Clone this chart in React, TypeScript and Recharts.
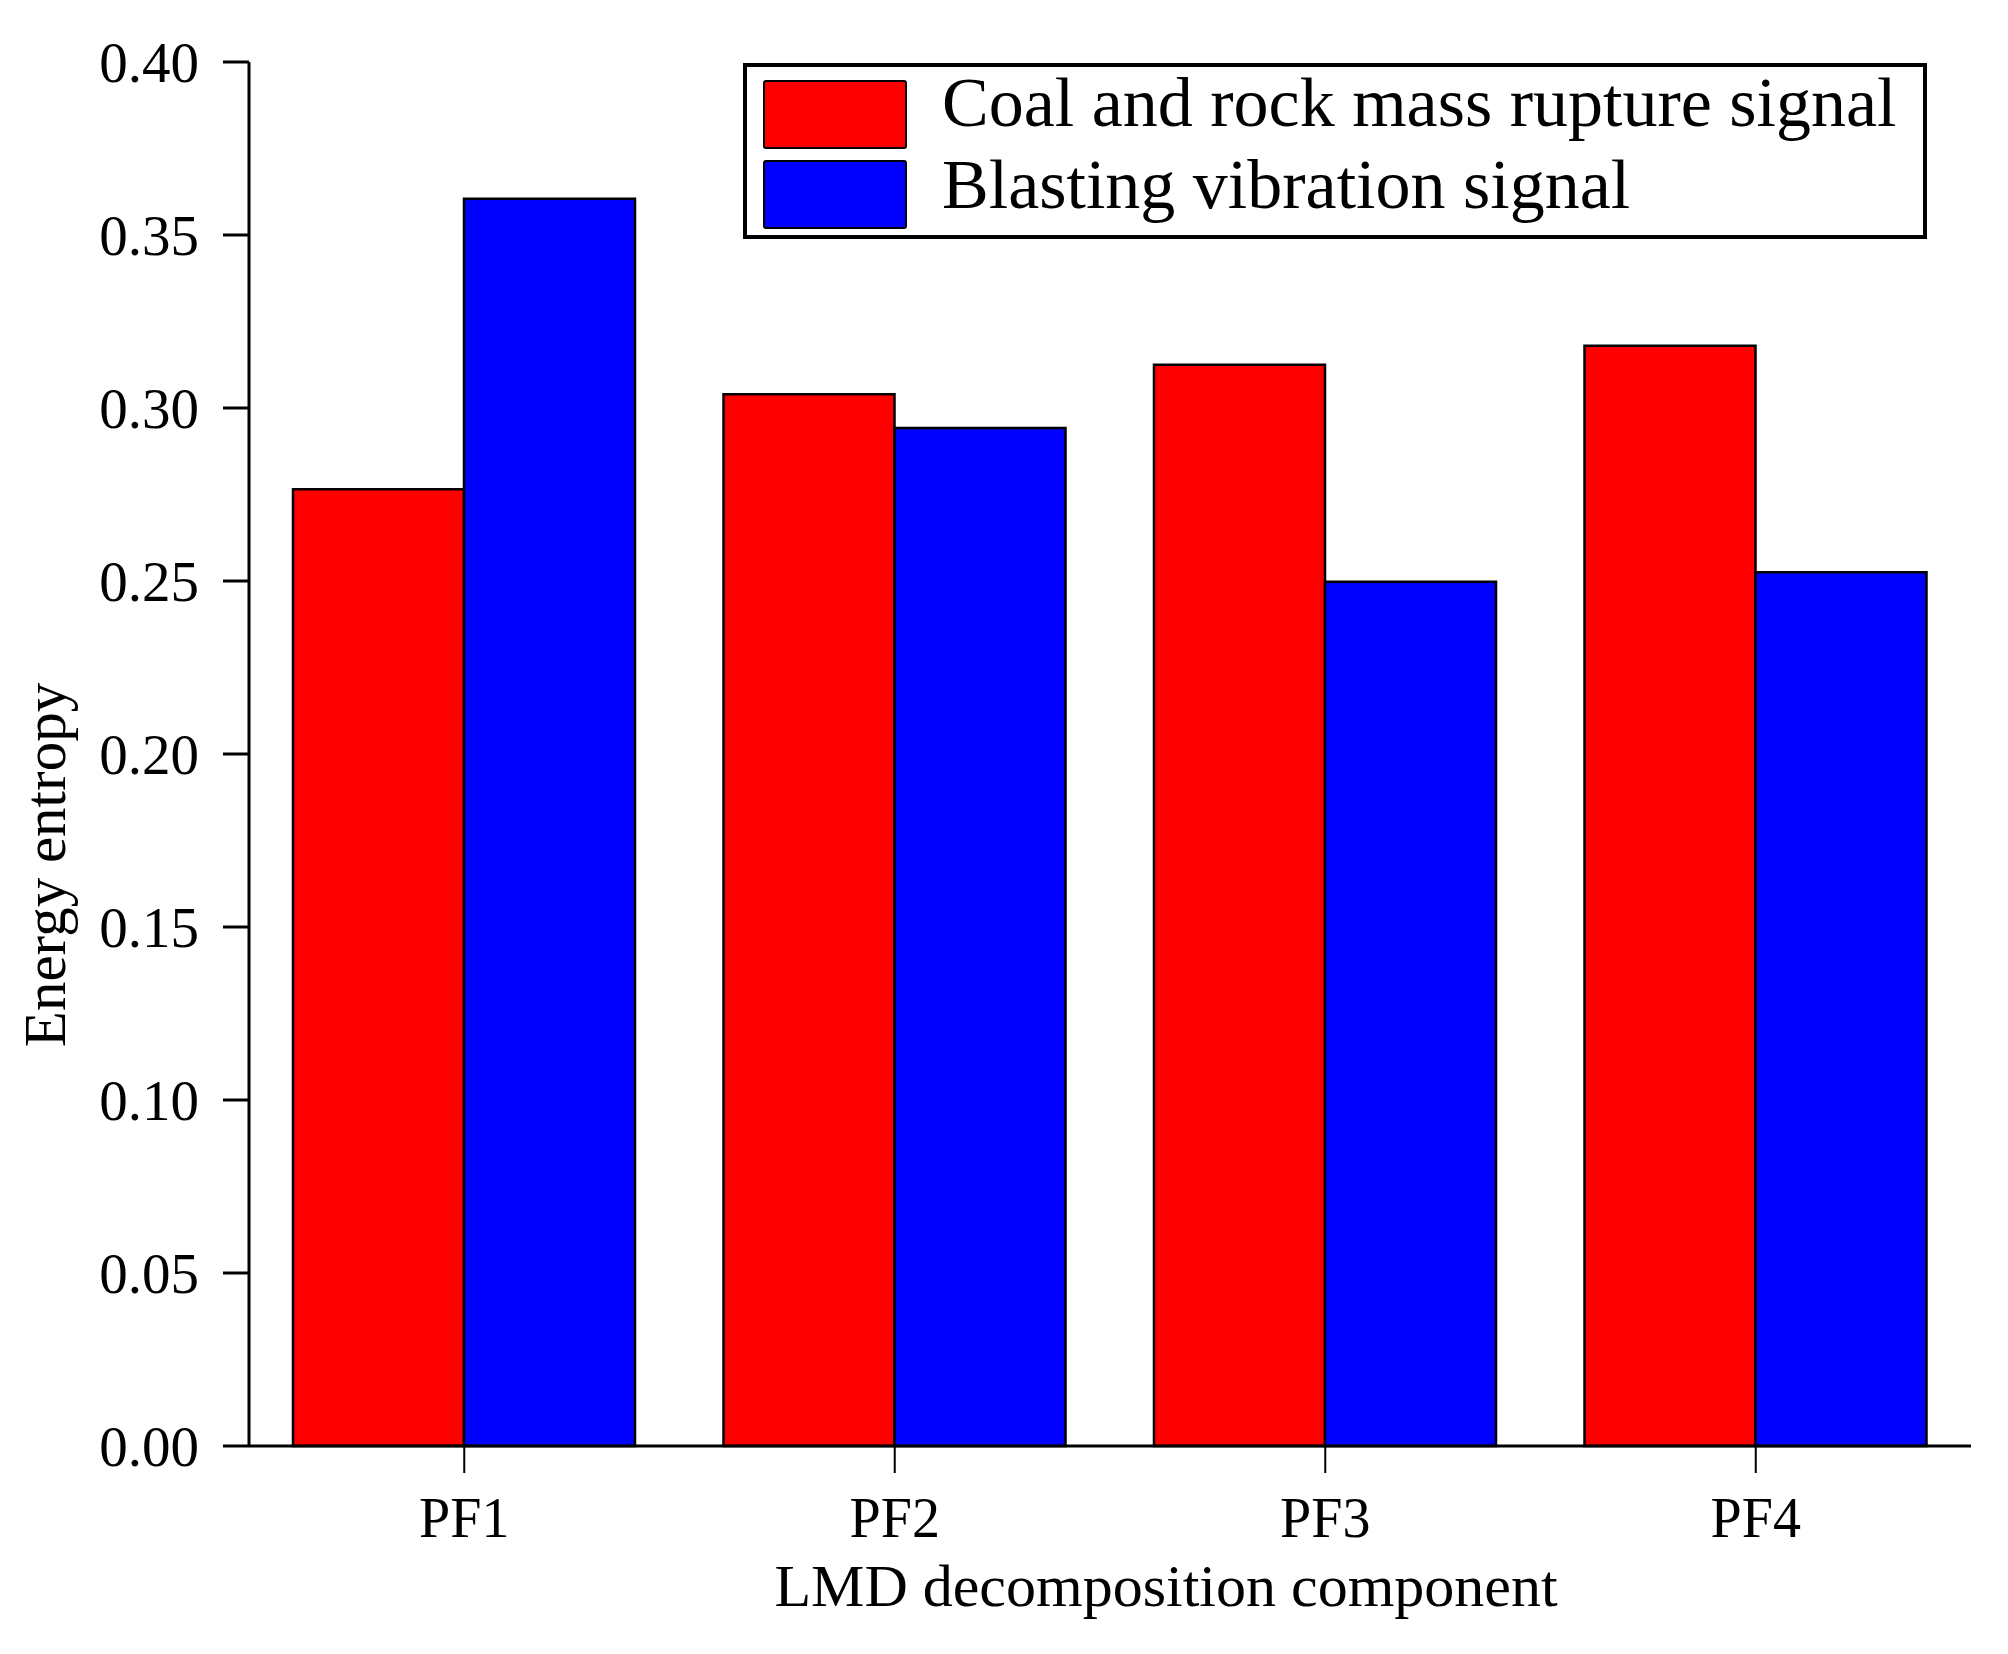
import React from 'react';
import { BarChart, Bar, XAxis, YAxis, Legend } from 'recharts';

const categories = ['PF1', 'PF2', 'PF3', 'PF4'];
const ruptureValues = [0.2765, 0.304, 0.3125, 0.318];
const blastingValues = [0.3605, 0.2942, 0.2498, 0.2525];
const yTicks = [0, 0.05, 0.1, 0.15, 0.2, 0.25, 0.3, 0.35, 0.4];
const seriesNames = ['Coal and rock mass rupture signal', 'Blasting vibration signal'];

const data = categories.map((name, i) => ({
  name,
  rupture: ruptureValues[i],
  blasting: blastingValues[i],
}));

const FONT = '"Liberation Serif", "Times New Roman", serif';

const LegendBox = (props: any) => {
  const raw = props.payload || [];
  const payload = [...raw].sort(
    (a: any, b: any) => seriesNames.indexOf(a.value) - seriesNames.indexOf(b.value)
  );
  return (
    <div
      style={{
        position: 'relative',
        width: 1184,
        height: 176,
        border: '4px solid #000',
        boxSizing: 'border-box',
        background: '#fff',
        fontFamily: FONT,
      }}
    >
      {payload.map((entry: any, i: number) => (
        <React.Fragment key={entry.value}>
          <div
            style={{
              position: 'absolute',
              left: 16,
              top: 13 + i * 80,
              width: 144,
              height: 69,
              background: entry.color,
              border: '2.5px solid #000',
              borderRadius: 3,
              boxSizing: 'border-box',
            }}
          />
          <span
            style={{
              position: 'absolute',
              left: 195,
              top: 1 + i * 82,
              fontSize: 70,
              lineHeight: '70px',
              color: '#000',
              whiteSpace: 'nowrap',
            }}
          >
            {entry.value}
          </span>
        </React.Fragment>
      ))}
    </div>
  );
};

const YTitle = (props: any) => {
  const vb = props.viewBox;
  const cx = 65;
  const cy = vb.y + vb.height / 2 + 111;
  return (
    <text
      x={cx}
      y={cy}
      transform={`rotate(-90, ${cx}, ${cy})`}
      textAnchor="middle"
      fontFamily={FONT}
      fontSize={59}
      fill="#000"
    >
      Energy entropy
    </text>
  );
};

const XTitle = (props: any) => {
  const vb = props.viewBox;
  return (
    <text
      x={vb.x + vb.width / 2 + 56}
      y={1606}
      textAnchor="middle"
      fontFamily={FONT}
      fontSize={60}
      fill="#000"
    >
      LMD decomposition component
    </text>
  );
};

export default function App() {
  return (
    <div style={{ position: 'absolute', left: 0, top: 0, background: '#fff' }}>
      <BarChart
        width={2008}
        height={1654}
        data={data}
        margin={{ top: 62, right: 37, bottom: 0, left: 0 }}
        barGap={0}
      >
        <XAxis
          dataKey="name"
          height={208}
          axisLine={{ stroke: '#000', strokeWidth: 3 }}
          tickLine={{ stroke: '#000', strokeWidth: 2 }}
          tickSize={27}
          tickMargin={24}
          tick={{ fill: '#000', fontSize: 56, fontFamily: FONT }}
          label={<XTitle />}
        />
        <YAxis
          width={249}
          domain={[0, 0.4]}
          ticks={yTicks}
          interval={0}
          tickFormatter={(v: number) => v.toFixed(2)}
          axisLine={{ stroke: '#000', strokeWidth: 3 }}
          tickLine={{ stroke: '#000', strokeWidth: 3 }}
          tickSize={26}
          tickMargin={24}
          tick={{ fill: '#000', fontSize: 57, fontFamily: FONT }}
          label={<YTitle />}
        />
        <Legend
          layout="vertical"
          align="center"
          verticalAlign="middle"
          content={<LegendBox />}
          wrapperStyle={{ left: 743, top: 63, width: 1184 }}
        />
        <Bar
          dataKey="rupture"
          name={seriesNames[0]}
          fill="#FF0000"
          stroke="#000"
          strokeWidth={2.5}
          barSize={171}
          isAnimationActive={false}
        />
        <Bar
          dataKey="blasting"
          name={seriesNames[1]}
          fill="#0000FF"
          stroke="#000"
          strokeWidth={2.5}
          barSize={171}
          isAnimationActive={false}
        />
      </BarChart>
    </div>
  );
}
